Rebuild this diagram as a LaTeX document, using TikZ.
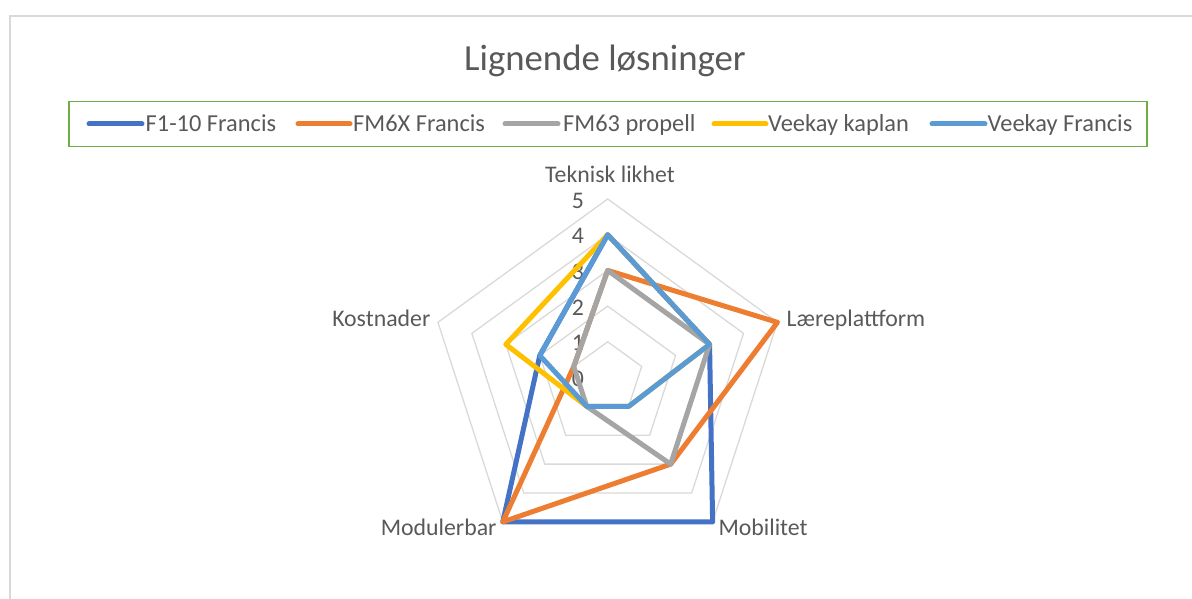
\documentclass[tikz,border=0pt]{standalone}
\usepackage{fontspec}
\setmainfont{Carlito}
\definecolor{txt}{HTML}{595959}
\definecolor{gridc}{HTML}{D9D9D9}
\definecolor{sA}{HTML}{4472C4}
\definecolor{sB}{HTML}{ED7D31}
\definecolor{sC}{HTML}{A5A5A5}
\definecolor{sD}{HTML}{FFC000}
\definecolor{sE}{HTML}{5B9BD5}
\definecolor{lgd}{HTML}{70AD47}
\begin{document}
\begin{tikzpicture}[x=1pt,y=-1pt,
  lbl/.style={text=txt,font=\fontsize{24.4}{29}\selectfont,inner sep=0pt},
  catlbl/.style={text=txt,font=\fontsize{23.8}{28}\selectfont,inner sep=0pt},
  titlelbl/.style={text=txt,font=\fontsize{36.8}{44}\selectfont,inner sep=0pt},
  series/.style={line width=5pt,line join=round},
  lgdline/.style={line width=5pt,line cap=round},
  gridline/.style={draw=gridc,line width=1.3pt}]
\useasboundingbox (0,0) rectangle (1192,599);
% chart frame
\draw[gridline] (10,599) -- (10,16) -- (1192,16);
% title
\node[titlelbl,anchor=base] (title) at (605,71) {Lignende løsninger};
% legend
\draw[lgd,line width=1.4pt] (69,101.5) rectangle (1147,146.5);
\draw[lgdline,sA] (89,124) -- (142,124);
\node[lbl,anchor=base west] (lA) at (145.5,131.7) {F1-10 Francis};
\draw[lgdline,sB] (298,124) -- (350,124);
\node[lbl,anchor=base west] (lB) at (353,131.7) {FM6X Francis};
\draw[lgdline,sC] (505,124) -- (558,124);
\node[lbl,anchor=base west] (lC) at (563,131.7) {FM63 propell};
\draw[lgdline,sD] (714,124) -- (766,124);
\node[lbl,anchor=base west] (lD) at (768,131.7) {Veekay kaplan};
\draw[lgdline,sE] (932,124) -- (985,124);
\node[lbl,anchor=base west] (lE) at (987.5,131.7) {Veekay Francis};
% radar
\begin{scope}[shift={(607.7,377.5)},y=1pt]
  \def\u{35.7}
  \foreach \k in {1,...,5}{
    \draw[gridline] ({90}:{\k*\u}) -- ({18}:{\k*\u}) -- ({-54}:{\k*\u}) -- ({234}:{\k*\u}) -- ({162}:{\k*\u}) -- cycle;
  }
  \foreach \k in {0,...,5}{
    \node[catlbl,anchor=east] (t\k) at (-23.5,{\k*\u-1.5}) {\k};
  }
  % F1-10 Francis
  \draw[series,sA] ({90}:{4*\u}) -- ({18}:{3*\u}) -- ({-54}:{5*\u}) -- ({234}:{5*\u}) -- ({162}:{2*\u}) -- cycle;
  % FM6X Francis
  \draw[series,sB] ({90}:{3*\u}) -- ({18}:{5*\u}) -- ({-54}:{3*\u}) -- ({234}:{5*\u}) -- ({162}:{1*\u}) -- cycle;
  % FM63 propell
  \draw[series,sC] ({90}:{3*\u}) -- ({18}:{3*\u}) -- ({-54}:{3*\u}) -- ({234}:{1*\u}) -- ({162}:{1*\u}) -- cycle;
  % Veekay kaplan
  \draw[series,sD] ({90}:{4*\u}) -- ({18}:{3*\u}) -- ({-54}:{1*\u}) -- ({234}:{1*\u}) -- ({162}:{3*\u}) -- cycle;
  % Veekay Francis
  \draw[series,sE] ({90}:{4*\u}) -- ({18}:{3*\u}) -- ({-54}:{1*\u}) -- ({234}:{1*\u}) -- ({162}:{2*\u}) -- cycle;
\end{scope}
% category labels
\node[catlbl,anchor=base] (cT) at (610,182.7) {Teknisk likhet};
\node[catlbl,anchor=base west] (cL) at (786.5,326.7) {Læreplattform};
\node[catlbl,anchor=base west] (cM) at (718.3,535) {Mobilitet};
\node[catlbl,anchor=base east] (cMo) at (496.7,535) {Modulerbar};
\node[catlbl,anchor=base east] (cK) at (430.5,326.7) {Kostnader};
\end{tikzpicture}
\end{document}
